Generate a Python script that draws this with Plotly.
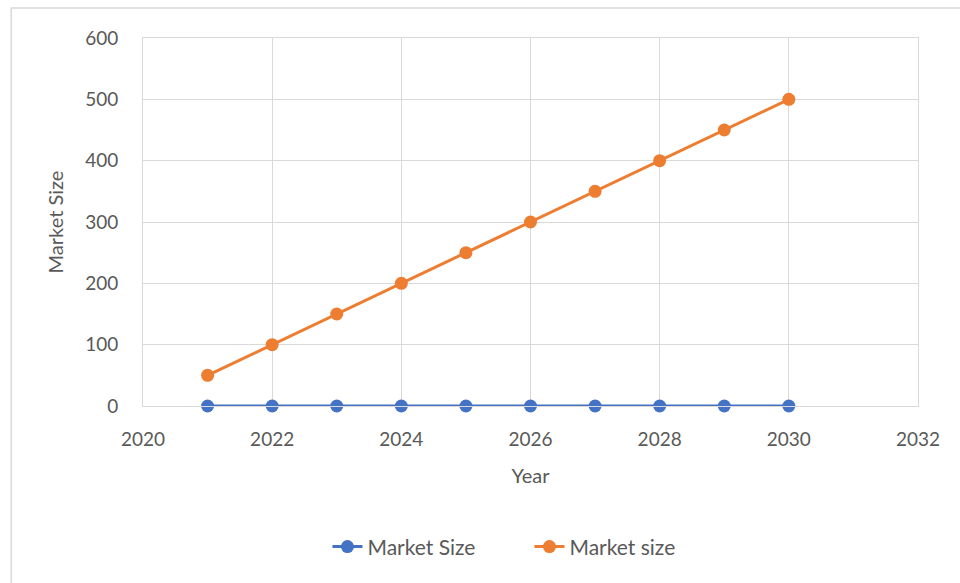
import plotly.graph_objects as go

years = [2021, 2022, 2023, 2024, 2025, 2026, 2027, 2028, 2029, 2030]
market_size_upper = [0, 0, 0, 0, 0, 0, 0, 0, 0, 0]
market_size_lower = [50, 100, 150, 200, 250, 300, 350, 400, 450, 500]
series_names = ["Market Size", "Market size"]
x_ticks = [2020, 2022, 2024, 2026, 2028, 2030, 2032]
y_ticks = [0, 100, 200, 300, 400, 500, 600]

BLUE = "#4472C4"
ORANGE = "#ED7D31"
GRID = "#d9d9d9"
TXT = "#595959"
FONT = "Lato, Open Sans, sans-serif"

fig = go.Figure()
fig.add_trace(go.Scatter(x=years, y=market_size_upper, name=series_names[0],
                         mode="lines+markers", cliponaxis=False,
                         line=dict(color=BLUE, width=3),
                         marker=dict(color=BLUE, size=13)))
fig.add_trace(go.Scatter(x=years, y=market_size_lower, name=series_names[1],
                         mode="lines+markers", cliponaxis=False,
                         line=dict(color=ORANGE, width=3),
                         marker=dict(color=ORANGE, size=13)))

fig.update_layout(
    width=960, height=583,
    margin=dict(l=143, r=42, t=38, b=177),
    paper_bgcolor="white", plot_bgcolor="white",
    font=dict(family=FONT, size=19, color=TXT),
    showlegend=True,
    legend=dict(orientation="h", x=0.238, xanchor="left", y=-0.383, yanchor="middle",
                font=dict(size=21, color=TXT), entrywidth=157, entrywidthmode="pixels",
                traceorder="normal"),
    xaxis=dict(range=[2020, 2032], tickvals=x_ticks, ticktext=[str(t) for t in x_ticks],
               showgrid=True, gridcolor=GRID, gridwidth=1, zeroline=False,
               showline=True, linecolor=GRID, mirror=True, ticks="",
               ticklabelstandoff=16,
               title=dict(text="Year", standoff=20, font=dict(size=20, color=TXT))),
    yaxis=dict(range=[0, 600], tickvals=y_ticks,
               showgrid=True, gridcolor=GRID, gridwidth=1, zeroline=False,
               showline=True, linecolor=GRID, mirror=True, ticks="",
               ticklabelstandoff=20,
               title=dict(text="Market Size", standoff=16, font=dict(size=20, color=TXT))),
    shapes=[dict(type="rect", xref="paper", yref="paper",
                 x0=-0.170, x1=1.2, y0=-0.7, y1=1.0815,
                 line=dict(color="#d9d9d9", width=1.5), fillcolor="rgba(0,0,0,0)",
                 layer="below")],
)

fig.write_html("out.html")
